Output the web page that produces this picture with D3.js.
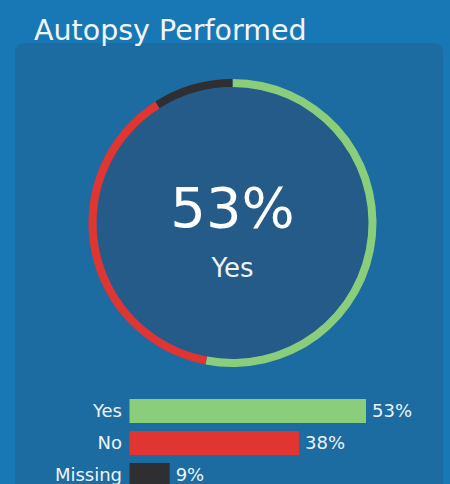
<!DOCTYPE html>
<html>
<head>
<meta charset="utf-8">
<script src="https://cdn.jsdelivr.net/npm/d3@7"></script>
<style>
  html, body { margin: 0; padding: 0; background: #1878b6; }
  svg { display: block; }
</style>
</head>
<body>
<div id="chart"></div>
<script>
// data
const categories = ["Yes", "No", "Missing"];
const values = [53, 38, 9];
const colors = ["#8ace7c", "#e03530", "#2f2f31"];
const title = "Autopsy Performed";

const width = 450, height = 484;
const font = "'DejaVu Sans', sans-serif";

const svg = d3.select("#chart").append("svg")
    .attr("width", width)
    .attr("height", height);

svg.append("rect")
    .attr("width", width).attr("height", height)
    .attr("fill", "#1878b6");

// panel
svg.append("rect")
    .attr("x", 15).attr("y", 43)
    .attr("width", 428).attr("height", 470)
    .attr("rx", 9)
    .attr("fill", "#1c6ca2");

svg.append("text")
    .attr("x", 34).attr("y", 40)
    .attr("fill", "#f2f6fa")
    .style("font-family", font)
    .style("font-size", "28.5px")
    .text(title);

// donut ring
const cx = 232.5, cy = 223, outerR = 144, innerR = 136;
const g = svg.append("g").attr("transform", `translate(${cx},${cy})`);

g.append("circle").attr("r", innerR).attr("fill", "#245b89");

const pie = d3.pie().sort(null).value(d => d.value);
const arc = d3.arc().innerRadius(innerR).outerRadius(outerR);
const slices = pie(categories.map((c, i) => ({cat: c, value: values[i], color: colors[i]})));

g.selectAll("path")
    .data(slices)
    .join("path")
    .attr("d", arc)
    .attr("fill", d => d.data.color);

g.append("text")
    .attr("y", 4)
    .attr("text-anchor", "middle")
    .attr("fill", "#ffffff")
    .style("font-family", font)
    .style("font-size", "56px")
    .text(values[0] + "%");

g.append("text")
    .attr("y", 54)
    .attr("text-anchor", "middle")
    .attr("fill", "#eef3f8")
    .style("font-family", font)
    .style("font-size", "26px")
    .text(categories[0]);

// bars
const x = d3.scaleLinear().domain([0, 53]).range([129.5, 366]);
const y = d3.scaleBand().domain(categories).range([399, 487]).paddingInner(0.25).paddingOuter(0);

const bars = svg.append("g");
bars.selectAll("rect")
    .data(categories)
    .join("rect")
    .attr("x", x(0))
    .attr("y", d => y(d))
    .attr("width", (d, i) => x(values[i]) - x(0))
    .attr("height", y.bandwidth())
    .attr("fill", (d, i) => colors[i]);

bars.selectAll("text.cat")
    .data(categories)
    .join("text")
    .attr("class", "cat")
    .attr("x", 122)
    .attr("y", d => y(d) + y.bandwidth() / 2)
    .attr("dy", "0.36em")
    .attr("text-anchor", "end")
    .attr("fill", "#eef3f8")
    .style("font-family", font)
    .style("font-size", "18px")
    .text(d => d);

bars.selectAll("text.val")
    .data(categories)
    .join("text")
    .attr("class", "val")
    .attr("x", (d, i) => x(values[i]) + 6)
    .attr("y", d => y(d) + y.bandwidth() / 2)
    .attr("dy", "0.36em")
    .attr("fill", "#eef3f8")
    .style("font-family", font)
    .style("font-size", "18px")
    .text((d, i) => values[i] + "%");
</script>
</body>
</html>
